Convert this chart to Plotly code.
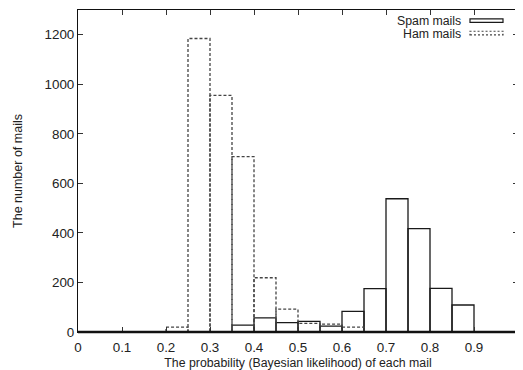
import plotly.graph_objects as go

# Bin left edges (width 0.05) and counts
bin_width = 0.05
bin_left = [round(i * bin_width, 2) for i in range(20)]
spam_counts = [0, 0, 0, 0, 0, 0, 0, 28, 57, 38, 43, 24, 83, 175, 538, 417, 176, 109, 0, 0]
ham_counts = [0, 0, 0, 0, 20, 1185, 955, 708, 219, 92, 35, 32, 20, 0, 0, 0, 0, 0, 0, 0]

x_ticks = [round(i * 0.1, 1) for i in range(11)]
x_tick_text = ["0", "0.1", "0.2", "0.3", "0.4", "0.5", "0.6", "0.7", "0.8", "0.9", "1"]
y_ticks = [0, 200, 400, 600, 800, 1000, 1200]

x_title = "The probability (Bayesian likelihood) of each mail"
y_title = "The number of mails"
series_names = ["Spam mails", "Ham mails"]

X_RANGE = [0, 1]


def box_path(lefts, counts, width):
    xs, ys = [], []
    for x0, h in zip(lefts, counts):
        if h <= 0:
            continue
        x1 = x0 + width
        xs += [x0, x0, x1, x1, None]
        ys += [0, h, h, 0, None]
    return xs, ys


FONT = "Liberation Sans, Arial, Helvetica, sans-serif"
TXT = "#222222"
TICK_SIZE = 13.4
fig = go.Figure()

sx, sy = box_path(bin_left, spam_counts, bin_width)
hx, hy = box_path(bin_left, ham_counts, bin_width)

fig.add_trace(go.Scatter(x=sx, y=sy, mode="lines", name=series_names[0],
                         line=dict(color="#1a1a1a", width=1.3), showlegend=False,
                         hoverinfo="skip"))
fig.add_trace(go.Scatter(x=hx, y=hy, mode="lines", name=series_names[1],
                         line=dict(color="#444444", width=1.3, dash="3px,2px"),
                         showlegend=False, hoverinfo="skip"))

axis_common = dict(showgrid=False, zeroline=False, showline=True, linecolor="#111111",
                   linewidth=1, mirror="allticks", ticks="inside", ticklen=5,
                   tickcolor="#333333", tickwidth=1, ticklabeloverflow="allow",
                   automargin=False,
                   tickfont=dict(family=FONT, size=TICK_SIZE, color=TXT))

# the end-of-range label is placed as an annotation (plotly hides it at the edge)
shown_x_text = x_tick_text[:-1] + [""]
fig.update_xaxes(range=X_RANGE, tickvals=x_ticks, ticktext=shown_x_text,
                 ticklabelstandoff=3,
                 title=dict(text=x_title, font=dict(family=FONT, size=12.3, color=TXT),
                            standoff=4),
                 **axis_common)
fig.update_yaxes(range=[0, 1300], tickvals=y_ticks,
                 title=dict(text=y_title, font=dict(family=FONT, size=12.5, color=TXT),
                            standoff=19),
                 **axis_common)

last_paper_x = (x_ticks[-1] - X_RANGE[0]) / (X_RANGE[1] - X_RANGE[0])
fig.add_annotation(xref="paper", yref="paper", x=last_paper_x, y=0, text=x_tick_text[-1],
                   showarrow=False, xanchor="center", yanchor="middle", yshift=-13,
                   borderpad=0, font=dict(family=FONT, size=TICK_SIZE, color=TXT))

# thick baseline (gnuplot boxes with zero bins overlapping the border)
fig.add_shape(type="line", xref="paper", yref="paper", x0=0, x1=1, y0=0, y1=0,
              line=dict(color="#111111", width=2.5), layer="above")

# Manual gnuplot-style key: text left of sample box
legend_items = [
    (series_names[0], 0.9650, 0.9670, dict(color="#1a1a1a", width=1.2)),
    (series_names[1], 0.9240, 0.9285, dict(color="#444444", width=1.2, dash="2px,2px")),
]
for name, yt, yb, ln in legend_items:
    fig.add_annotation(xref="paper", yref="paper", x=0.8727, y=yt, text=name,
                       showarrow=False, xanchor="right", yanchor="middle",
                       borderpad=0, font=dict(family=FONT, size=12.3, color=TXT))
    fig.add_shape(type="rect", xref="paper", yref="paper", x0=0.8909, x1=0.9659,
                  y0=yb - 0.0055, y1=yb + 0.0055, line=ln, fillcolor="rgba(0,0,0,0)")

# page body has an 8px margin: figure offset accounted for in size/margins
fig.update_layout(width=530, height=370, margin=dict(l=70, r=20, t=2, b=46),
                  plot_bgcolor="white", paper_bgcolor="white",
                  font=dict(family=FONT, color=TXT), showlegend=False)

fig.write_html("out.html")
